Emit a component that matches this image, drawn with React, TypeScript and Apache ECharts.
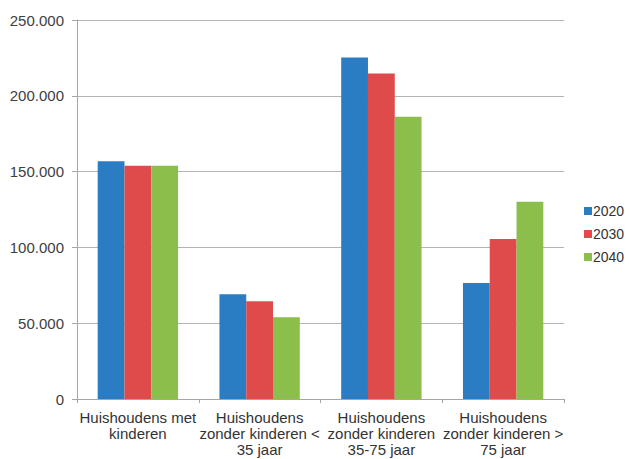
import React, { useEffect, useRef } from "react";
import * as echarts from "echarts";

const categories = [
  "Huishoudens met\nkinderen",
  "Huishoudens\nzonder kinderen <\n35 jaar",
  "Huishoudens\nzonder kinderen\n35-75 jaar",
  "Huishoudens\nzonder kinderen >\n75 jaar",
];
const seriesNames = ["2020", "2030", "2040"];
const values2020 = [156800, 69100, 225200, 76500];
const values2030 = [153900, 64500, 214700, 105500];
const values2040 = [153900, 54000, 186200, 130100];
const colors = ["#2a7dc2", "#df4a4b", "#8cbe4c"];

export default function App() {
  const ref = useRef<HTMLDivElement>(null);
  useEffect(() => {
    const chart = echarts.init(ref.current!, null, { renderer: "svg" });
    const data = [values2020, values2030, values2040];
    chart.setOption({
      animation: false,
      textStyle: { fontFamily: "Liberation Sans, Arial, sans-serif" },
      grid: { left: 77, right: 67, top: 20, bottom: 60, containLabel: false },
      legend: {
        orient: "vertical",
        left: 584,
        top: 204,
        itemWidth: 8,
        itemHeight: 8,
        itemGap: 9,
        icon: "rect",
        padding: 0,
        textStyle: { fontSize: 14, lineHeight: 14, color: "#333", padding: [0, 0, 0, -4] },
        data: seriesNames,
      },
      xAxis: {
        type: "category",
        data: categories,
        axisLine: { lineStyle: { color: "#a6a6a6", width: 1 } },
        axisTick: { show: true, length: 4, lineStyle: { color: "#a6a6a6" } },
        axisLabel: {
          interval: 0,
          fontSize: 15,
          lineHeight: 16,
          color: "#333",
          margin: 10,
        },
      },
      yAxis: {
        type: "value",
        min: 0,
        max: 250000,
        interval: 50000,
        axisLine: { show: true, lineStyle: { color: "#a6a6a6" } },
        axisTick: { show: true, length: 5, lineStyle: { color: "#a6a6a6" } },
        splitLine: { lineStyle: { color: "#b3b3b3" } },
        axisLabel: {
          fontSize: 15,
          color: "#404040",
          margin: 13,
          formatter: (v: number) =>
            v === 0 ? "0" : v.toString().replace(/\B(?=(\d{3})+(?!\d))/g, "."),
        },
      },
      series: seriesNames.map((name, i) => ({
        name,
        type: "bar",
        data: data[i],
        itemStyle: { color: colors[i] },
        barGap: "0%",
        barCategoryGap: "34%",
      })),
    });
    return () => chart.dispose();
  }, []);
  return <div ref={ref} style={{ width: 631, height: 459, position: "absolute", left: 0, top: 0 }} />;
}
